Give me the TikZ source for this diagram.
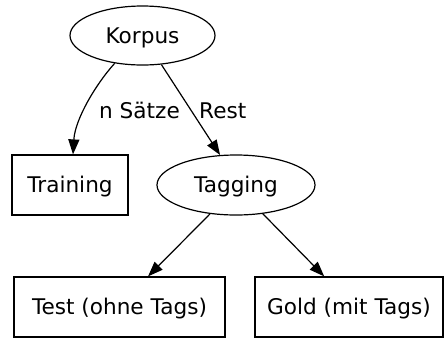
\documentclass[tikz,border=0pt]{standalone}
\usepackage{fontspec}
\setmainfont{DejaVu Sans}
\usetikzlibrary{shapes.geometric,arrows.meta}
\begin{document}
\begin{tikzpicture}[x=1pt,y=-1pt,
  every node/.style={font=\fontsize{21.6}{26}\selectfont, text height=15.8pt, text depth=0pt, inner sep=0pt},
  ell/.style={draw, ellipse, line width=1.2pt},
  box/.style={draw, rectangle, line width=1.2pt},
  edge/.style={line width=1.2pt, -{Triangle[length=15pt,width=11pt]}},
  lbl/.style={anchor=base west, text height=, text depth=}]
\useasboundingbox (0,0) rectangle (444,338);
\node[ell, minimum width=145pt, minimum height=59pt] (korpus) at (142.5,35.5) {Korpus};
\node[box, minimum width=116pt, minimum height=60pt] (training) at (70,185) {Training};
\node[ell, minimum width=158pt, minimum height=60pt] (tagging) at (236,185) {Tagging};
\node[box, minimum width=211pt, minimum height=60pt] (test) at (119.5,307) {Test (ohne Tags)};
\node[box, minimum width=188pt, minimum height=60pt] (gold) at (349,307) {Gold (mit Tags)};
\node[lbl] (l1) at (99,118) {n Sätze};
\node[lbl] (l2) at (199,118) {Rest};
\draw[edge] (korpus.225) .. controls +(-19,21) and +(2,-35) .. ([xshift=3pt]training.north);
\draw[edge] (korpus.303) -- (tagging.118);
\draw[edge] (tagging.228) -- (test.47);
\draw[edge] (tagging.313) -- (gold.129);
\end{tikzpicture}
\end{document}
